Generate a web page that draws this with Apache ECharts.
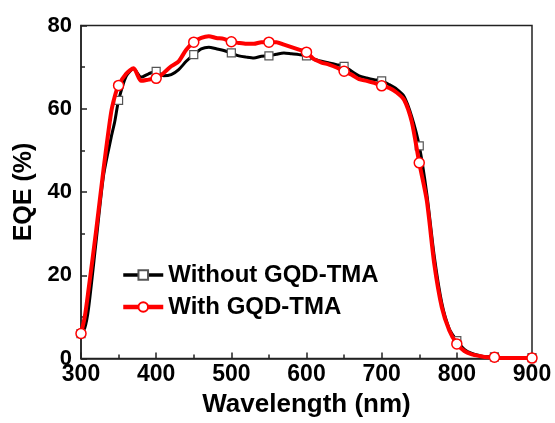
<!DOCTYPE html>
<html>
<head>
<meta charset="utf-8">
<script src="https://cdn.jsdelivr.net/npm/echarts@6/dist/echarts.min.js"></script>
<style>
  html, body { margin: 0; padding: 0; background: #fff; }
  #chart { width: 555px; height: 423px; }
</style>
</head>
<body>
<div id="chart"></div>
<script>
// Wavelength grid (nm) shared by both EQE curves
const wavelength = [300, 305, 310, 320, 330, 340, 345, 350, 360, 370, 380, 390, 400, 410, 420, 430, 440, 450,
  460, 470, 480, 490, 500, 510, 520, 530, 540, 550, 560, 570, 580, 590, 600, 610, 620, 630, 640, 650,
  660, 670, 680, 690, 700, 710, 720, 730, 740, 750, 760, 770, 780, 790, 800, 810, 820, 830, 840, 850,
  860, 870, 880, 890, 900];

// EQE (%) without GQD-TMA
const eqeWithout = [6.0, 7.3, 12, 28, 44, 53, 57, 62, 67.8, 69.6, 67.6, 68.4, 69, 67.9, 68.2, 69.4, 71.4, 73,
  74.4, 74.8, 74.4, 74, 73.4, 72.7, 72.4, 72.2, 72.6, 72.7, 73.1, 73.4, 73.2, 73, 72.7, 71.9, 71.4, 71, 70.6, 70.2,
  69, 67.9, 67.4, 67, 66.7, 65.8, 64.7, 62.9, 58.1, 51.1, 39.6, 24.5, 13.3, 7.1, 4.3, 2.2, 1.2, 0.7, 0.4, 0.4,
  0.2, 0.2, 0.1, 0.1, 0.2];

// EQE (%) with GQD-TMA
const eqeWith = [6.0, 10, 16.5, 30.5, 45.5, 59, 63, 65.6, 68.4, 69.7, 66.7, 67, 67.3, 68.6, 70.2, 71.4, 74.2, 76,
  77, 77.4, 77, 76.8, 76.1, 75.8, 75.6, 75.6, 76, 76, 76, 75.4, 74.8, 74.2, 73.6, 71.9, 71.1, 70.6, 69.9, 69,
  68.2, 67.1, 66.7, 66.2, 65.5, 65, 63.9, 62.1, 56.9, 47, 38, 22.7, 12.3, 6.7, 3.5, 1.8, 1.0, 0.6, 0.3, 0.3,
  0.1, 0.1, 0.1, 0.1, 0.1];

const xTicks = { min: 300, max: 900, step: 100 };
const yTicks = { min: 0, max: 80, step: 20 };

const FONT = '"Liberation Sans", Arial, sans-serif';

// markers sit on every 50 nm point only
function toPoints(values) {
  return wavelength.map((w, i) => {
    const item = { value: [w, values[i]] };
    if (w % 50 !== 0) item.symbol = 'none';
    return item;
  });
}

const chart = echarts.init(document.getElementById('chart'), null, { renderer: 'canvas' });

chart.setOption({
  animation: false,
  backgroundColor: '#fff',
  grid: {
    left: 81, right: 23, top: 25.5, bottom: 64.5,
    show: true, borderColor: '#222', borderWidth: 1.5, backgroundColor: 'transparent'
  },
  legend: {
    orient: 'vertical',
    left: 116, top: 258,
    itemWidth: 40, itemHeight: 12, itemGap: 8,
    textStyle: { fontFamily: FONT, fontWeight: 'bold', fontSize: 24, color: '#000', padding: [0, 0, 0, 0] },
    data: [
      { name: 'Without GQD-TMA', lineStyle: { width: 3.5 } },
      { name: 'With GQD-TMA', lineStyle: { width: 4.5 } }
    ]
  },
  xAxis: {
    type: 'value',
    min: xTicks.min, max: xTicks.max, interval: xTicks.step,
    name: 'Wavelength (nm)', nameLocation: 'middle', nameGap: 31,
    nameTextStyle: { fontFamily: FONT, fontWeight: 'bold', fontSize: 26, color: '#000' },
    axisLine: { show: true, onZero: false, lineStyle: { color: '#222', width: 1.5 } },
    axisTick: { show: true, inside: true, length: 6, lineStyle: { color: '#222', width: 1.5 } },
    minorTick: { show: true, splitNumber: 2, length: 4, lineStyle: { color: '#222', width: 1.5 } },
    splitLine: { show: false },
    axisLabel: { fontFamily: FONT, fontWeight: 'bold', fontSize: 23, color: '#000', margin: 5 }
  },
  yAxis: {
    type: 'value',
    min: yTicks.min, max: yTicks.max, interval: yTicks.step,
    name: 'EQE (%)', nameLocation: 'middle', nameGap: 44,
    nameTextStyle: { fontFamily: FONT, fontWeight: 'bold', fontSize: 25, color: '#000' },
    axisLine: { show: true, lineStyle: { color: '#222', width: 1.5 } },
    axisTick: { show: true, inside: true, length: 6, lineStyle: { color: '#222', width: 1.5 } },
    minorTick: { show: true, splitNumber: 2, length: 4, lineStyle: { color: '#222', width: 1.5 } },
    splitLine: { show: false },
    axisLabel: { fontFamily: FONT, fontWeight: 'bold', fontSize: 22, color: '#000', margin: 9 }
  },
  series: [
    {
      name: 'Without GQD-TMA',
      type: 'line',
      smooth: 0.25,
      showAllSymbol: true,
      symbol: 'rect',
      symbolSize: 8,
      lineStyle: { color: '#000', width: 3 },
      itemStyle: { color: '#fff', borderColor: '#555', borderWidth: 1.2 },
      data: toPoints(eqeWithout),
      z: 2
    },
    {
      name: 'With GQD-TMA',
      type: 'line',
      smooth: 0.25,
      showAllSymbol: true,
      symbol: 'circle',
      symbolSize: 10,
      lineStyle: { color: '#f00', width: 4 },
      itemStyle: { color: '#fff', borderColor: '#f00', borderWidth: 1.5 },
      data: toPoints(eqeWith),
      z: 3
    }
  ]
});
</script>
</body>
</html>
